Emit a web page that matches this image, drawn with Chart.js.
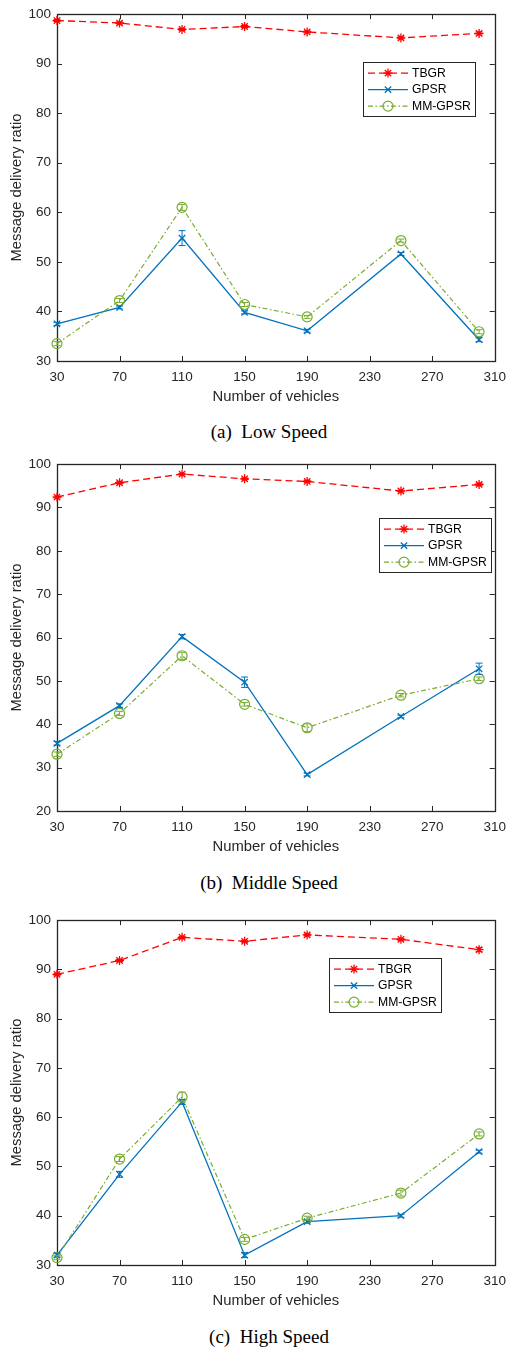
<!DOCTYPE html>
<html>
<head>
<meta charset="utf-8">
<script src="https://cdn.jsdelivr.net/npm/chart.js@4.4.1/dist/chart.umd.min.js"></script>
<style>
  html, body { margin: 0; padding: 0; background: #fff; width: 514px; height: 1349px; overflow: hidden; }
  .panel { position: absolute; left: 0; width: 514px; }
  .cap { position: absolute; left: 0; width: 538px; text-align: center; line-height: 22px;
         font-family: 'Liberation Serif', 'Times New Roman', serif; font-size: 19px; color: #000; white-space: pre; }
</style>
</head>
<body>
<div class="panel" style="top:0px;height:410px"><canvas id="low" width="514" height="410"></canvas></div>
<div class="cap" style="top:421px">(a)  Low Speed</div>
<div class="panel" style="top:450px;height:410px"><canvas id="mid" width="514" height="410"></canvas></div>
<div class="cap" style="top:872px">(b)  Middle Speed</div>
<div class="panel" style="top:906px;height:408px"><canvas id="high" width="514" height="408"></canvas></div>
<div class="cap" style="top:1326px">(c)  High Speed</div>

<script>
// Number of vehicles in the simulation runs
const vehicles = [30, 70, 110, 150, 190, 250, 300];
const xTickValues = [30, 70, 110, 150, 190, 230, 270, 310];
const seriesNames = ['TBGR', 'GPSR', 'MM-GPSR'];

// Low speed
const tbgrLow    = [98.7, 98.2, 96.9, 97.5, 96.4, 95.2, 96.1];
const gpsrLow    = [37.5, 40.8, 54.8, 39.8, 36.1, 51.6, 34.3];
const mmLow      = [33.5, 42.2, 61.0, 41.4, 38.9, 54.3, 35.9];
const tbgrLowErr = [0.2, 0.2, 0.2, 0.2, 0.2, 0.2, 0.3];
const gpsrLowErr = [0.3, 0.3, 1.5, 0.3, 0.3, 0.3, 0.4];
const mmLowErr   = [0.4, 0.4, 0.6, 0.4, 0.3, 0.3, 0.4];
const yTicksLow  = [30, 40, 50, 60, 70, 80, 90, 100];

// Middle speed
const tbgrMid    = [92.4, 95.7, 97.7, 96.6, 96.0, 93.8, 95.3];
const gpsrMid    = [35.6, 44.3, 60.2, 49.7, 28.4, 41.8, 52.8];
const mmMid      = [33.1, 42.5, 55.8, 44.6, 39.2, 46.7, 50.5];
const tbgrMidErr = [0.2, 0.2, 0.2, 0.2, 0.2, 0.2, 0.3];
const gpsrMidErr = [0.4, 0.4, 0.5, 1.2, 0.3, 0.3, 1.3];
const mmMidErr   = [0.5, 0.5, 0.8, 0.4, 0.9, 0.4, 0.4];
const yTicksMid  = [20, 30, 40, 50, 60, 70, 80, 90, 100];

// High speed
const tbgrHigh    = [89.0, 91.8, 96.5, 95.7, 97.0, 96.1, 94.0];
const gpsrHigh    = [32.0, 48.4, 63.1, 32.0, 38.8, 40.0, 53.0];
const mmHigh      = [31.5, 51.5, 64.1, 35.2, 39.5, 44.6, 56.6];
const tbgrHighErr = [0.2, 0.2, 0.2, 0.2, 0.2, 0.2, 0.4];
const gpsrHighErr = [0.4, 0.6, 0.5, 0.5, 0.3, 0.3, 0.3];
const mmHighErr   = [0.4, 0.5, 1.0, 0.4, 0.4, 0.6, 0.4];
const yTicksHigh  = [30, 40, 50, 60, 70, 80, 90, 100];

const AXIS = '#262626';
const SANS = "'Liberation Sans', Arial, Helvetica, sans-serif";

// Box around the plot area with inward tick marks on all four sides
const framePlugin = {
  id: 'frame',
  beforeDatasetsDraw(chart) {
    const { ctx, chartArea: a, scales: { x, y } } = chart;
    const L = 5;
    ctx.save();
    ctx.strokeStyle = AXIS;
    ctx.lineWidth = 1;
    ctx.beginPath();
    x.ticks.forEach(t => {
      const px = Math.round(x.getPixelForValue(t.value)) + 0.5;
      ctx.moveTo(px, a.bottom); ctx.lineTo(px, a.bottom - L);
      ctx.moveTo(px, a.top);    ctx.lineTo(px, a.top + L);
    });
    y.ticks.forEach(t => {
      const py = Math.round(y.getPixelForValue(t.value)) + 0.5;
      ctx.moveTo(a.left, py);  ctx.lineTo(a.left + L, py);
      ctx.moveTo(a.right, py); ctx.lineTo(a.right - L, py);
    });
    ctx.stroke();
    ctx.lineWidth = 1.3;
    ctx.strokeRect(Math.round(a.left) + 0.5, Math.round(a.top) + 0.5,
                   Math.round(a.right - a.left), Math.round(a.bottom - a.top));
    ctx.restore();
  }
};

// Vertical error bars with caps, read from each dataset's errorBars array
const errorBarPlugin = {
  id: 'errorBars',
  afterDatasetsDraw(chart) {
    const { ctx, scales: { x, y } } = chart;
    ctx.save();
    ctx.lineWidth = 1;
    ctx.setLineDash([]);
    chart.data.datasets.forEach(ds => {
      if (!ds.errorBars) return;
      ctx.strokeStyle = ds.borderColor;
      ds.data.forEach((p, j) => {
        const e = ds.errorBars[j];
        const px = x.getPixelForValue(p.x);
        const top = y.getPixelForValue(p.y + e);
        const bot = y.getPixelForValue(p.y - e);
        const w = 3.5;
        ctx.beginPath();
        ctx.moveTo(px, top); ctx.lineTo(px, bot);
        ctx.moveTo(px - w, top); ctx.lineTo(px + w, top);
        ctx.moveTo(px - w, bot); ctx.lineTo(px + w, bot);
        ctx.stroke();
      });
    });
    ctx.restore();
  }
};

// Boxed legend placed inside the plot area
const boxLegendPlugin = {
  id: 'boxLegend',
  afterDraw(chart, args, opts) {
    const { ctx, chartArea: a } = chart;
    const left = a.left + opts.dx, top = a.top + opts.dy;
    const w = 112, rowH = 16.5, h = 54;
    ctx.save();
    ctx.fillStyle = '#fff';
    ctx.fillRect(left, top, w, h);
    ctx.strokeStyle = AXIS;
    ctx.lineWidth = 1;
    ctx.strokeRect(Math.round(left) + 0.5, Math.round(top) + 0.5, w, h);
    chart.data.datasets.forEach((ds, i) => {
      const cy = top + 11 + i * rowH;
      const x0 = left + 5, x1 = left + 45;
      ctx.strokeStyle = ds.borderColor;
      ctx.lineWidth = ds.borderWidth;
      ctx.setLineDash(ds.borderDash || []);
      ctx.beginPath();
      ctx.moveTo(x0, cy); ctx.lineTo(x1, cy);
      ctx.stroke();
      ctx.setLineDash([]);
      ctx.fillStyle = ds.pointBackgroundColor;
      ctx.lineWidth = ds.pointBorderWidth;
      Chart.helpers.drawPoint(ctx, {
        pointStyle: ds.pointStyle, radius: ds.pointRadius,
        borderWidth: ds.pointBorderWidth, rotation: 0
      }, (x0 + x1) / 2, cy);
      ctx.fillStyle = '#000';
      ctx.font = '12.2px ' + SANS;
      ctx.textBaseline = 'middle';
      ctx.textAlign = 'left';
      ctx.fillText(ds.label, x1 + 4, cy + 0.5);
    });
    ctx.restore();
  }
};

const pts = ys => vehicles.map((v, i) => ({ x: v, y: ys[i] }));

function makeChart(id, tbgr, gpsr, mm, errs, yTicks, legendPos) {
  const datasets = [
    { label: seriesNames[0], data: pts(tbgr), errorBars: errs[0], order: 2,
      borderColor: '#FF0000', borderWidth: 1.3, borderDash: [7, 4],
      pointStyle: 'star', pointRadius: 4.5, pointBorderWidth: 1.3,
      pointBorderColor: '#FF0000', pointBackgroundColor: '#FF0000' },
    { label: seriesNames[1], data: pts(gpsr), errorBars: errs[1], order: 1,
      borderColor: '#0072BD', borderWidth: 1.3,
      pointStyle: 'crossRot', pointRadius: 4.5, pointBorderWidth: 1.3,
      pointBorderColor: '#0072BD', pointBackgroundColor: '#0072BD' },
    { label: seriesNames[2], data: pts(mm), errorBars: errs[2], order: 0,
      borderColor: '#77AC30', borderWidth: 1.2, borderDash: [5, 2.5, 1.5, 2.5],
      pointStyle: 'circle', pointRadius: 5, pointBorderWidth: 1.2,
      pointBorderColor: '#77AC30', pointBackgroundColor: 'rgba(0,0,0,0)' }
  ];
  datasets.forEach(d => { d.fill = false; d.tension = 0; d.clip = false; d.showLine = true; });

  return new Chart(document.getElementById(id), {
    type: 'line',
    data: { datasets },
    plugins: [framePlugin, errorBarPlugin, boxLegendPlugin],
    options: {
      responsive: false,
      devicePixelRatio: 1,
      animation: false,
      events: [],
      layout: { padding: { top: 10, right: 12, left: 0, bottom: 0 } },
      plugins: {
        legend: { display: false },
        tooltip: { enabled: false },
        boxLegend: legendPos
      },
      scales: {
        x: {
          type: 'linear',
          min: xTickValues[0], max: xTickValues[xTickValues.length - 1],
          afterBuildTicks: s => { s.ticks = xTickValues.map(v => ({ value: v })); },
          afterFit: s => { s.height = 49; },
          grid: { display: false, drawTicks: false },
          border: { display: false },
          ticks: { color: AXIS, font: { family: SANS, size: 13.5 }, padding: 8,
                   maxRotation: 0, autoSkip: false },
          title: { display: true, text: 'Number of vehicles', color: AXIS,
                   font: { family: SANS, size: 14.8 }, padding: { top: 0, bottom: 4 } }
        },
        y: {
          type: 'linear',
          min: yTicks[0], max: yTicks[yTicks.length - 1],
          afterBuildTicks: s => { s.ticks = yTicks.map(v => ({ value: v })); },
          afterFit: s => { s.width = 57; },
          grid: { display: false, drawTicks: false },
          border: { display: false },
          ticks: { color: AXIS, font: { family: SANS, size: 13.5 }, padding: 6, autoSkip: false },
          title: { display: true, text: 'Message delivery ratio', color: AXIS,
                   font: { family: SANS, size: 14.8 }, padding: { top: 8, bottom: 0 } }
        }
      }
    }
  });
}

makeChart('low', tbgrLow, gpsrLow, mmLow, [tbgrLowErr, gpsrLowErr, mmLowErr], yTicksLow, { dx: 306, dy: 48 });
makeChart('mid', tbgrMid, gpsrMid, mmMid, [tbgrMidErr, gpsrMidErr, mmMidErr], yTicksMid, { dx: 322, dy: 54 });
makeChart('high', tbgrHigh, gpsrHigh, mmHigh, [tbgrHighErr, gpsrHighErr, mmHighErr], yTicksHigh, { dx: 272, dy: 38 });
</script>
</body>
</html>
